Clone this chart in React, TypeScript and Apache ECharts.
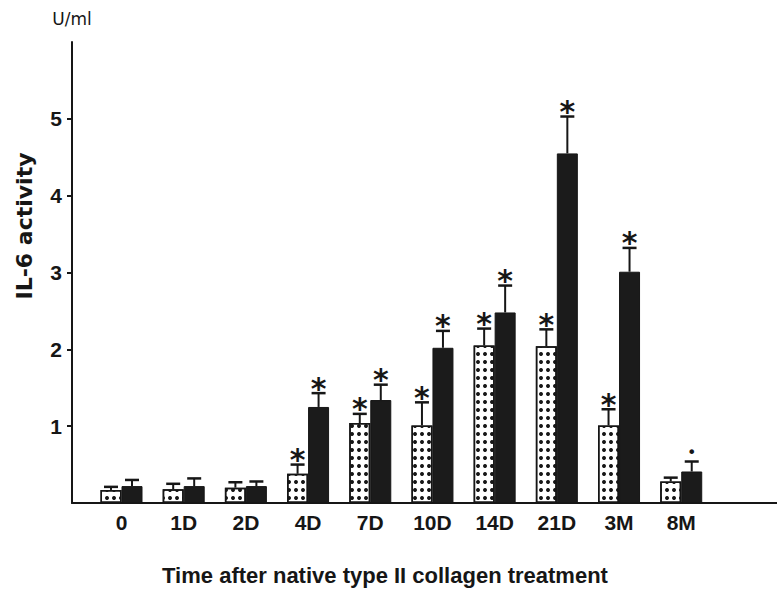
import React, { useEffect, useRef } from 'react';
import * as echarts from 'echarts';

// ---- data ----
const categories = ['0', '1D', '2D', '4D', '7D', '10D', '14D', '21D', '3M', '8M'];
const yTickValues = [1, 2, 3, 4, 5];

// dotted bars
const dottedMean = [0.17, 0.18, 0.2, 0.38, 1.04, 1.01, 2.05, 2.04, 1.01, 0.28];
const dottedErrTop = [0.21, 0.25, 0.27, 0.5, 1.16, 1.31, 2.27, 2.26, 1.22, 0.33];
const dottedMark = ['', '', '', '*', '*', '*', '*', '*', '*', ''];

// black bars
const blackMean = [0.22, 0.22, 0.22, 1.25, 1.34, 2.02, 2.48, 4.55, 3.01, 0.41];
const blackErrTop = [0.3, 0.32, 0.28, 1.43, 1.54, 2.24, 2.83, 5.03, 3.32, 0.54];
const blackMark = ['', '', '', '*', '*', '*', '*', '*', '*', '•'];

const INK = '#161616';
const TICK_FONT = "'Liberation Sans', Arial, sans-serif";
const BAR_W = 21;

function errorSeries(name: string, means: number[], tops: number[], marks: string[], side: number) {
  return {
    name,
    type: 'custom',
    z: 5,
    data: means.map((m, i) => [i, m, tops[i]]),
    encode: { x: 0, y: [1, 2] },
    renderItem: (params: any, api: any) => {
      const i = api.value(0);
      const m = api.value(1);
      const t = api.value(2);
      const p0 = api.coord([i, m]);
      const p1 = api.coord([i, t]);
      const x = p0[0] + side * (BAR_W / 2);
      const mark = marks[params.dataIndex];
      const children: any[] = [
        { type: 'line', shape: { x1: x, y1: p0[1], x2: x, y2: p1[1] }, style: { stroke: INK, lineWidth: 2 } },
        { type: 'line', shape: { x1: x - 7, y1: p1[1], x2: x + 7, y2: p1[1] }, style: { stroke: INK, lineWidth: 2.5 } },
      ];
      if (mark === '*') {
        children.push({
          type: 'text',
          style: { text: '*', x, y: p1[1] - 5, align: 'center', verticalAlign: 'middle', font: "bold 30px 'DejaVu Sans'", fill: INK },
        });
      } else if (mark) {
        children.push({
          type: 'text',
          style: { text: mark, x, y: p1[1] - 9, align: 'center', verticalAlign: 'middle', font: "16px 'DejaVu Sans'", fill: INK },
        });
      }
      return { type: 'group', children };
    },
  };
}

export default function App() {
  const ref = useRef<HTMLDivElement>(null);
  useEffect(() => {
    if (!ref.current) return;
    const chart = echarts.init(ref.current, null, { renderer: 'svg' });
    chart.setOption({
      animation: false,
      backgroundColor: '#ffffff',
      grid: { left: 72, right: 0, top: 42, bottom: 88, containLabel: false },
      xAxis: {
        type: 'value',
        min: -0.796,
        max: 10.54,
        axisLine: { show: true, onZero: false, lineStyle: { color: INK, width: 2 } },
        axisTick: { show: false },
        splitLine: { show: false },
        axisLabel: {
          customValues: categories.map((_, i) => i),
          formatter: (v: number) => categories[Math.round(v)] ?? '',
          margin: 9,
          color: INK,
          fontFamily: TICK_FONT,
          fontWeight: 'bold',
          fontSize: 21,
        },
      },
      yAxis: {
        type: 'value',
        min: 0,
        max: 6,
        name: 'U/ml',
        nameLocation: 'end',
        nameGap: 15,
        nameTextStyle: { color: INK, fontFamily: "'DejaVu Sans'", fontSize: 17, align: 'center' },
        axisLine: { show: true, onZero: false, lineStyle: { color: INK, width: 2 } },
        axisTick: { show: true, length: 5, inside: false, customValues: yTickValues, lineStyle: { color: INK, width: 2 } },
        splitLine: { show: false },
        axisLabel: {
          customValues: yTickValues,
          margin: 10,
          color: INK,
          fontFamily: TICK_FONT,
          fontWeight: 'bold',
          fontSize: 21,
        },
      },
      series: [
        {
          name: 'dotted',
          type: 'bar',
          barWidth: BAR_W,
          barGap: '0%',
          data: dottedMean.map((v, i) => [i, v]),
          itemStyle: {
            color: '#ffffff',
            borderColor: INK,
            borderWidth: 1.5,
            decal: {
              symbol: 'circle',
              symbolSize: 1,
              color: INK,
              dashArrayX: [3.4, 3],
              dashArrayY: [3.4, 3.2],
            },
          },
        },
        {
          name: 'black',
          type: 'bar',
          barWidth: BAR_W,
          barGap: '0%',
          data: blackMean.map((v, i) => [i, v]),
          itemStyle: { color: '#1b1b1b', borderColor: INK, borderWidth: 1 },
        },
        errorSeries('dotted error', dottedMean, dottedErrTop, dottedMark, -1),
        errorSeries('black error', blackMean, blackErrTop, blackMark, 1),
      ],
      graphic: [
        {
          type: 'text',
          x: 24,
          y: 226,
          rotation: Math.PI / 2,
          style: { text: 'IL-6 activity', align: 'center', verticalAlign: 'middle', font: "bold 22px 'DejaVu Sans'", fill: INK },
        },
        {
          type: 'text',
          x: 385,
          y: 575,
          style: {
            text: 'Time after native type II collagen treatment',
            align: 'center',
            verticalAlign: 'middle',
            font: "bold 22px 'Liberation Sans', Arial, sans-serif",
            fill: INK,
          },
        },
      ],
    });
    return () => chart.dispose();
  }, []);
  return <div ref={ref} style={{ position: 'absolute', left: 0, top: 0, width: 777, height: 591 }} />;
}
